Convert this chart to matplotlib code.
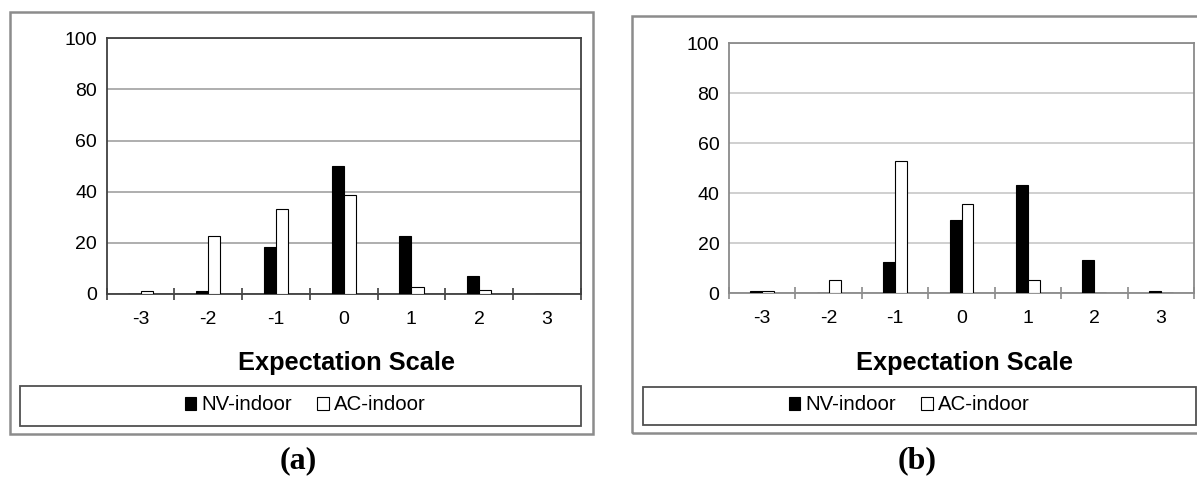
import matplotlib
matplotlib.use('Agg')
import matplotlib.pyplot as plt
from matplotlib.patches import Rectangle, Patch
import numpy as np

# escala de expectativa y porcentajes
escala = [-3, -2, -1, 0, 1, 2, 3]
nv_a = [0, 1, 18.5, 50.2, 22.7, 7.0, 0]
ac_a = [1, 22.7, 33.4, 38.7, 2.8, 1.7, 0]
nv_b = [1, 0, 12.5, 29.2, 43.1, 13.3, 1]
ac_b = [1, 5.3, 52.8, 35.6, 5.3, 0, 0]
yticks = [0, 20, 40, 60, 80, 100]
series = ['NV-indoor', 'AC-indoor']

W, H = 1197, 479
plt.rcParams['font.family'] = ['Liberation Sans', 'DejaVu Sans']


def px(x0, y0, x1, y1):
    # caja en pixeles (origen arriba a la izquierda) -> fraccion de figura
    return [x0 / W, 1 - y1 / H, (x1 - x0) / W, (y1 - y0) / H]


def panel(fig, caja, marco, caja_ley, centro_ley, centro_lab, nv, ac,
          borde, rejilla, letra, centro_letra):
    # marco exterior del panel
    x0, y0, x1, y1 = marco
    fig.patches.append(Rectangle((x0 / W, 1 - y1 / H), (x1 - x0) / W, (y1 - y0) / H,
                                 transform=fig.transFigure, fill=False,
                                 edgecolor='#8c8c8c', lw=1.8))
    # caja de la leyenda
    x0, y0, x1, y1 = caja_ley
    fig.patches.append(Rectangle((x0 / W, 1 - y1 / H), (x1 - x0) / W, (y1 - y0) / H,
                                 transform=fig.transFigure, fill=False,
                                 edgecolor='#505050', lw=1.3))

    ax = fig.add_axes(px(*caja))
    x = np.array(escala)
    w = 0.18
    ax.bar(x - w / 2, nv, w, color='black', edgecolor='black', lw=0.8, zorder=3)
    ax.bar(x + w / 2, ac, w, color='white', edgecolor='black', lw=0.8, zorder=3)

    ax.set_xlim(-3.5, 3.5)
    ax.set_ylim(0, 100)
    ax.set_yticks(yticks)
    ax.tick_params(axis='y', length=0, pad=7, labelsize=14)
    ax.set_xticks(np.arange(-3.5, 4, 1))
    ax.set_xticklabels([])
    ax.set_xticks(escala, minor=True)
    ax.set_xticklabels([str(v) for v in escala], minor=True)
    ax.tick_params(axis='x', which='major', direction='inout', length=8,
                   width=1.2, color=borde)
    ax.tick_params(axis='x', which='minor', length=0, pad=12, labelsize=14)
    ax.yaxis.grid(True, color=rejilla, lw=1.3)
    ax.set_axisbelow(True)
    for s in ax.spines.values():
        s.set_color(borde)
        s.set_linewidth(1.3)

    fig.text(centro_lab / W, 1 - 363 / H, 'Expectation Scale', ha='center',
             va='center', fontsize=18.3, fontweight='bold')

    handles = [Patch(facecolor='black', edgecolor='black', lw=0.8),
               Patch(facecolor='white', edgecolor='black', lw=0.8)]
    ax.legend(handles, series, loc='center', ncol=2, frameon=False,
              bbox_to_anchor=(centro_ley / W, 1 - 405 / H),
              bbox_transform=fig.transFigure, fontsize=14.7,
              handlelength=0.58, handleheight=0.58, handletextpad=0.25,
              columnspacing=1.2)

    fig.text(centro_letra / W, 1 - 461 / H, letra, ha='center', va='center',
             fontsize=23, fontweight='bold', family=['Liberation Serif', 'DejaVu Serif'])
    return ax


fig = plt.figure(figsize=(W / 100, H / 100), dpi=100)

panel(fig, (106.7, 38.3, 580.7, 294), (10, 12.3, 592.7, 434),
      (20, 386, 580.7, 425.7), 305, 346, nv_a, ac_a,
      '#404040', '#a8a8a8', '(a)', 298)
panel(fig, (729, 43, 1194, 293), (632, 15.7, 1210, 433),
      (643, 387, 1195.6, 425), 909, 964, nv_b, ac_b,
      '#8a8a8a', '#cccccc', '(b)', 917)

fig.savefig('out.png', dpi=100)
